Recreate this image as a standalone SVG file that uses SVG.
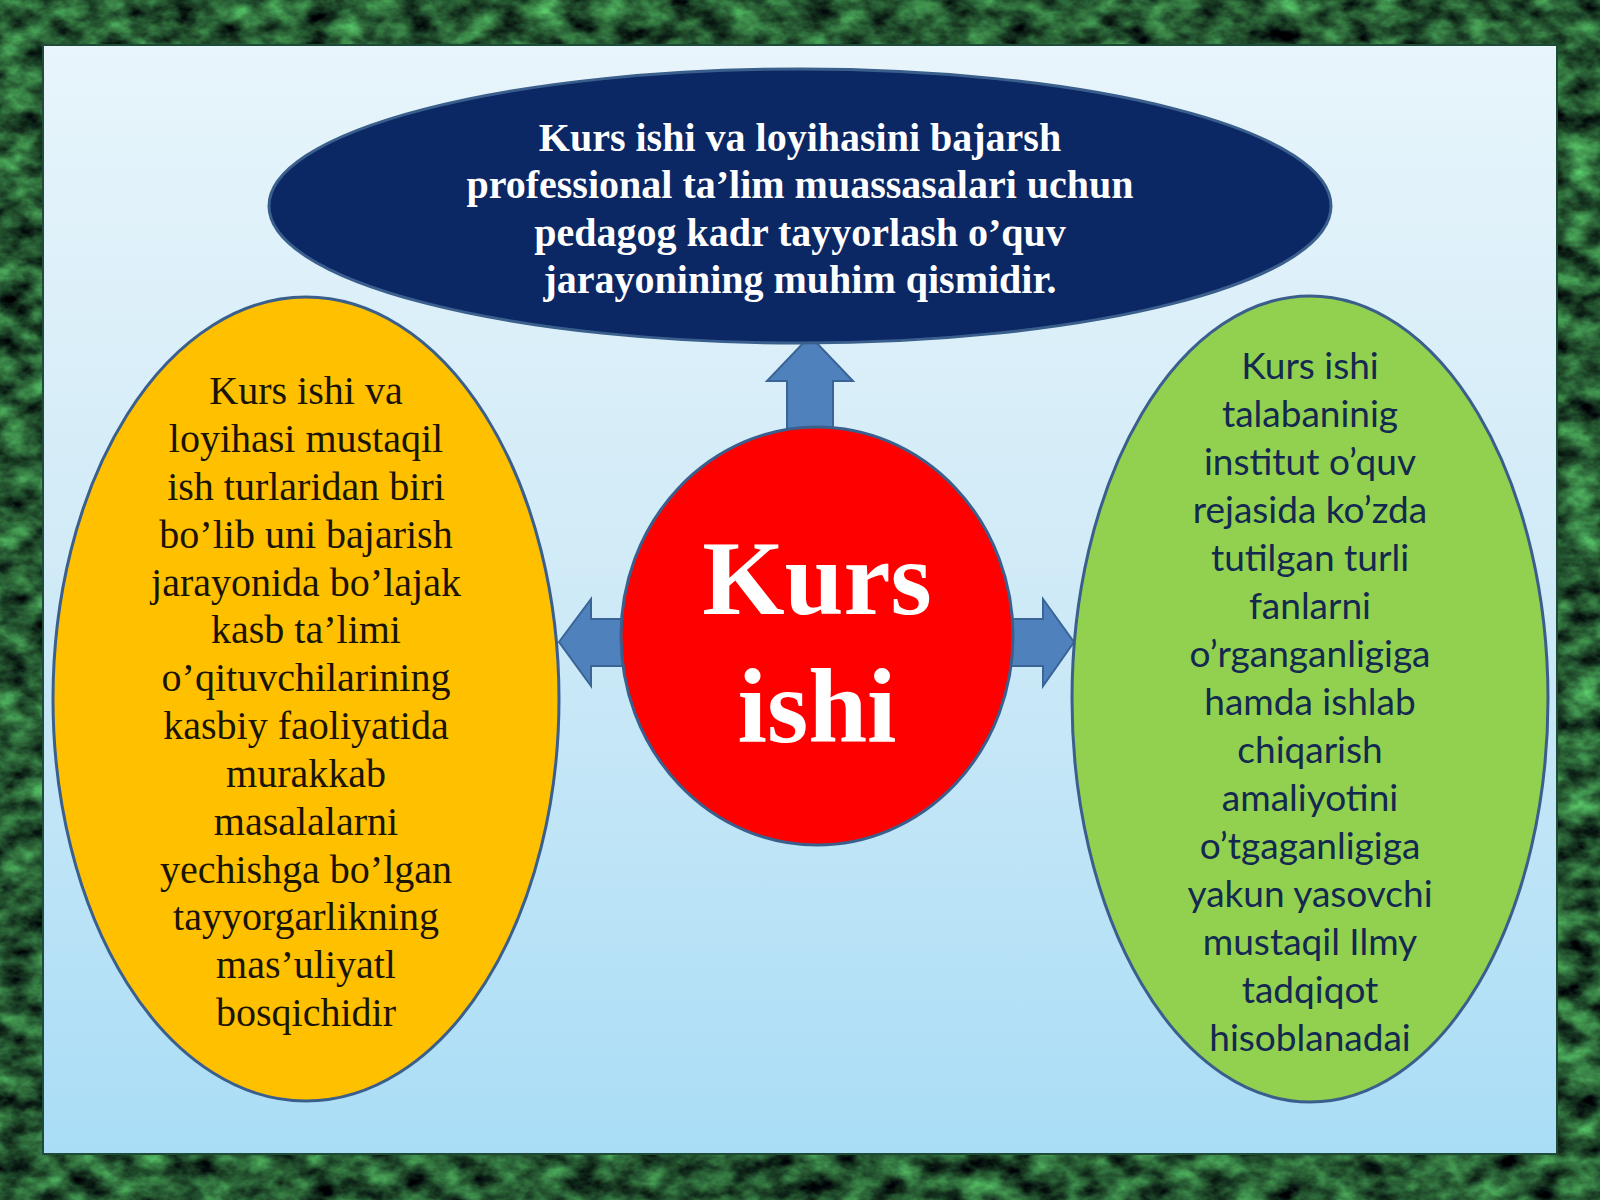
<svg xmlns="http://www.w3.org/2000/svg" width="1600" height="1200" viewBox="0 0 1600 1200">
  <defs>
    <filter id="grass" x="0" y="0" width="100%" height="100%" color-interpolation-filters="sRGB">
      <feTurbulence type="fractalNoise" baseFrequency="0.03 0.045" numOctaves="4" seed="7" result="n"/>
      <feColorMatrix in="n" type="matrix" values="0.5 0 0 0 -0.1  1.1 0 0 0 -0.2  0.55 0 0 0 -0.08  0 0 0 0 1"/>
    </filter>
    <linearGradient id="panelGrad" x1="0" y1="0" x2="0" y2="1">
      <stop offset="0" stop-color="#e8f5fb"/>
      <stop offset="0.5" stop-color="#cfeaf7"/>
      <stop offset="1" stop-color="#a9ddf6"/>
    </linearGradient>
    <style>
      .node { stroke: #3b5f8c; stroke-width: 3; }
      .arrow { fill: #4f81bd; stroke: #3a6496; stroke-width: 2; stroke-linejoin: miter; }
      .topTxt { font-family: "Liberation Serif", "Times New Roman", serif; font-weight: bold; font-size: 40px; fill: #ffffff; text-anchor: middle; }
      .leftTxt { font-family: "Liberation Serif", "Times New Roman", serif; font-size: 40px; fill: #1a1405; text-anchor: middle; }
      .rightTxt { font-family: Lato, "Open Sans", sans-serif; font-size: 37px; fill: #13294f; text-anchor: middle; }
      .centerTxt { font-family: "Liberation Serif", "Times New Roman", serif; font-weight: bold; font-size: 106px; fill: #ffffff; text-anchor: middle; }
    </style>
  </defs>

  <g id="background">
    <rect x="0" y="0" width="1600" height="1200" fill="#21592d"/>
    <rect x="0" y="0" width="1600" height="1200" filter="url(#grass)"/>
    <rect x="43" y="45" width="1514" height="1109" fill="url(#panelGrad)" stroke="#1e4b38" stroke-width="2"/>
  </g>

  <g id="connectors">
    <polygon class="arrow" points="810,336 853,381 833,381 833,450 787,450 787,381 767,381"/>
    <polygon class="arrow" points="559,642 591,599 591,619 660,619 660,666 591,666 591,686"/>
    <polygon class="arrow" points="1074,642 1043,599 1043,619 975,619 975,666 1043,666 1043,686"/>
  </g>

  <g id="node-top">
    <ellipse class="node" cx="800" cy="206" rx="531" ry="137" fill="#0b2865"/>
    <text class="topTxt" x="800" y="151">Kurs ishi va loyihasini bajarsh</text>
    <text class="topTxt" x="800" y="198">professional ta’lim muassasalari uchun</text>
    <text class="topTxt" x="800" y="246">pedagog kadr tayyorlash o’quv</text>
    <text class="topTxt" x="800" y="293">jarayonining muhim qismidir.</text>
  </g>

  <g id="node-left">
    <ellipse class="node" cx="306" cy="699" rx="253" ry="402" fill="#ffc000"/>
    <text class="leftTxt" x="306" y="404">Kurs ishi va</text>
    <text class="leftTxt" x="306" y="452">loyihasi mustaqil</text>
    <text class="leftTxt" x="306" y="500">ish turlaridan biri</text>
    <text class="leftTxt" x="306" y="548">bo’lib uni bajarish</text>
    <text class="leftTxt" x="306" y="596">jarayonida bo’lajak</text>
    <text class="leftTxt" x="306" y="643">kasb ta’limi</text>
    <text class="leftTxt" x="306" y="691">o’qituvchilarining</text>
    <text class="leftTxt" x="306" y="739">kasbiy faoliyatida</text>
    <text class="leftTxt" x="306" y="787">murakkab</text>
    <text class="leftTxt" x="306" y="835">masalalarni</text>
    <text class="leftTxt" x="306" y="883">yechishga bo’lgan</text>
    <text class="leftTxt" x="306" y="930">tayyorgarlikning</text>
    <text class="leftTxt" x="306" y="978">mas’uliyatl</text>
    <text class="leftTxt" x="306" y="1026">bosqichidir</text>
  </g>

  <g id="node-right">
    <ellipse class="node" cx="1310" cy="699" rx="238" ry="403" fill="#92d050"/>
    <text class="rightTxt" x="1310" y="379">Kurs ishi</text>
    <text class="rightTxt" x="1310" y="427">talabaninig</text>
    <text class="rightTxt" x="1310" y="475">institut o’quv</text>
    <text class="rightTxt" x="1310" y="523">rejasida ko’zda</text>
    <text class="rightTxt" x="1310" y="571">tutilgan turli</text>
    <text class="rightTxt" x="1310" y="619">fanlarni</text>
    <text class="rightTxt" x="1310" y="667">o’rganganligiga</text>
    <text class="rightTxt" x="1310" y="715">hamda ishlab</text>
    <text class="rightTxt" x="1310" y="763">chiqarish</text>
    <text class="rightTxt" x="1310" y="811">amaliyotini</text>
    <text class="rightTxt" x="1310" y="859">o’tgaganligiga</text>
    <text class="rightTxt" x="1310" y="907">yakun yasovchi</text>
    <text class="rightTxt" x="1310" y="955">mustaqil Ilmy</text>
    <text class="rightTxt" x="1310" y="1003">tadqiqot</text>
    <text class="rightTxt" x="1310" y="1051">hisoblanadai</text>
  </g>

  <g id="node-center">
    <ellipse class="node" cx="817" cy="636" rx="196" ry="209" fill="#ff0000"/>
    <text class="centerTxt" x="817" y="614">Kurs</text>
    <text class="centerTxt" x="817" y="742">ishi</text>
  </g>
</svg>
